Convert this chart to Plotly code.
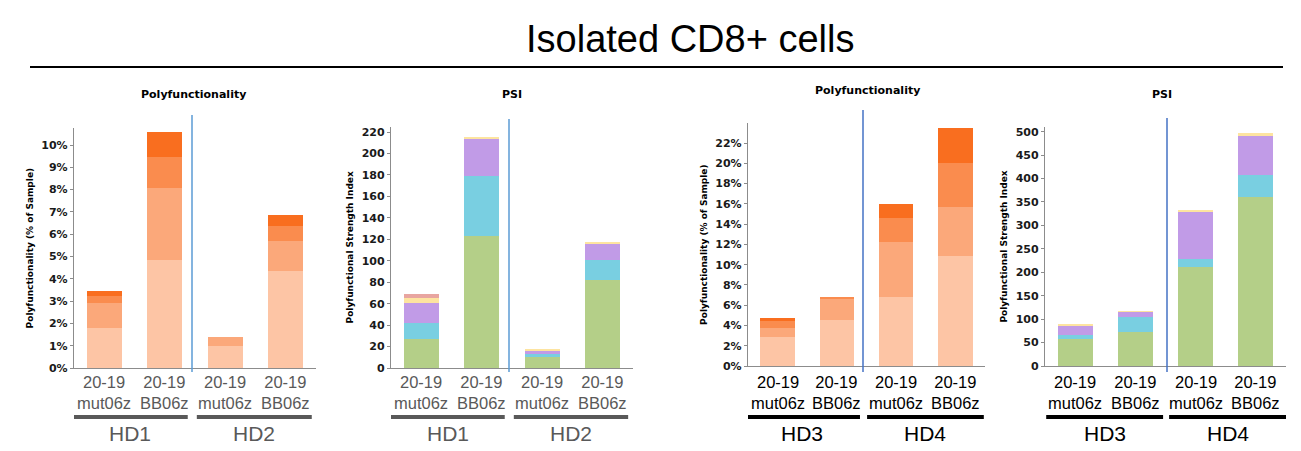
import plotly.graph_objects as go

# page body has an 8px margin: figure sized and offset to fill the 1301x451 window
OFF = 8
W, H = 1301 - OFF, 451 - OFF

# ---------------- data ----------------
categories = ["20-19<br>mut06z", "20-19<br>BB06z", "20-19<br>mut06z", "20-19<br>BB06z"]
groups_a = ["HD1", "HD2"]
groups_b = ["HD3", "HD4"]

# Panel 1: Polyfunctionality HD1/HD2 (% of sample), stacked segments (light -> dark)
p1_l1 = [1.80, 4.85, 0.97, 4.35]
p1_l2 = [1.10, 3.20, 0.41, 1.32]
p1_l3 = [0.30, 1.40, 0.00, 0.68]
p1_l4 = [0.25, 1.10, 0.00, 0.50]

# Panel 2: PSI HD1/HD2, stacked segments (green, cyan, purple, yellow, pink)
p2_green = [27.3, 123.0, 10.6, 82.0]
p2_cyan = [15.3, 56.0, 2.8, 18.7]
p2_purple = [18.7, 35.0, 3.1, 15.3]
p2_yellow = [4.5, 2.0, 1.8, 1.8]
p2_pink = [3.2, 0.0, 0.0, 0.0]

# Panel 3: Polyfunctionality HD3/HD4
p3_l1 = [2.87, 4.50, 6.80, 10.80]
p3_l2 = [0.88, 2.15, 5.45, 4.90]
p3_l3 = [0.63, 0.15, 2.35, 4.35]
p3_l4 = [0.30, 0.00, 1.40, 3.40]

# Panel 4: PSI HD3/HD4
p4_green = [57.7, 73.4, 211.5, 360.4]
p4_cyan = [7.8, 30.6, 17.1, 47.0]
p4_purple = [20.0, 11.4, 99.0, 85.5]
p4_yellow = [2.1, 1.0, 5.0, 3.5]

# ---------------- styles ----------------
orange = ["#FDC5A5", "#FBA87A", "#FA8C4E", "#F96E1F"]
psi_cols = ["#B4CF88", "#79CFE1", "#C19BE7", "#FDE4A0", "#E8A5A0"]


def px(x):
    return (x - OFF) / W


def py(y):
    return 1 - (y - OFF) / H


panels = [
    dict(x0=74, x1=316, ytop=128.3, ybot=368, yr=10.75, dtick=1, suffix="%",
         ytitle="Polyfunctionality (% of Sample)", title="Polyfunctionality", tx=193, ty=95,
         layers=[p1_l1, p1_l2, p1_l3, p1_l4], colors=orange, txt="#595959",
         groups=groups_a, div=192, divy=(115, 372), divcol="#5B9BD5",
         under=[(-0.52, 1.38), (1.53, 3.43)], ucol="#595959"),
    dict(x0=391, x1=633, ytop=126.7, ybot=368, yr=225, dtick=20, suffix="",
         ytitle="Polyfunctional Strength Index", title="PSI", tx=512, ty=95,
         layers=[p2_green, p2_cyan, p2_purple, p2_yellow, p2_pink], colors=psi_cols,
         txt="#595959", groups=groups_a, div=509, divy=(119, 372), divcol="#5B9BD5",
         under=[(-0.5, 1.38), (1.53, 3.42)], ucol="#595959"),
    dict(x0=748, x1=985, ytop=123.3, ybot=366, yr=23.95, dtick=2, suffix="%",
         ytitle="Polyfunctionality (% of Sample)", title="Polyfunctionality", tx=867, ty=90,
         layers=[p3_l1, p3_l2, p3_l3, p3_l4], colors=orange, txt="#000000",
         groups=groups_b, div=863, divy=(110, 372), divcol="#4472C4",
         under=[(-0.58, 1.39), (1.51, 3.48)], ucol="#000000"),
    dict(x0=1045, x1=1286, ytop=127, ybot=366, yr=510, dtick=50, suffix="",
         ytitle="Polyfunctional Strength Index", title="PSI", tx=1162, ty=95,
         layers=[p4_green, p4_cyan, p4_purple, p4_yellow], colors=psi_cols,
         txt="#000000", groups=groups_b, div=1167, divy=(118, 372), divcol="#4472C4",
         under=[(-0.48, 1.46), (1.56, 3.52)], ucol="#000000"),
]

fig = go.Figure()
shapes = []
annotations = []
xpos = list(range(len(categories)))
tickfont = dict(family="DejaVu Sans", size=11, color="#1a1a1a", weight="bold")

for i, p in enumerate(panels):
    n = "" if i == 0 else str(i + 1)
    xa, ya = "x" + n, "y" + n
    for layer, col in zip(p["layers"], p["colors"]):
        fig.add_trace(go.Bar(x=xpos, y=layer, xaxis=xa, yaxis=ya, width=0.58,
                             marker=dict(color=col, line=dict(width=0)),
                             showlegend=False))
    fig.layout["xaxis" + n] = dict(
        domain=[px(p["x0"]), px(p["x1"])], range=[-0.5, 3.5], anchor=ya,
        showticklabels=False, ticks="", showgrid=False, zeroline=False,
        showline=True, linecolor="#8c8c8c", linewidth=1.3, fixedrange=True)
    fig.layout["yaxis" + n] = dict(
        domain=[py(p["ybot"]), py(p["ytop"])], range=[0, p["yr"]], anchor=xa,
        dtick=p["dtick"], ticksuffix=p["suffix"], showgrid=False, zeroline=False,
        showline=True, linecolor="#8c8c8c", linewidth=1.3, ticks="outside",
        ticklen=3, tickcolor="#8c8c8c", tickfont=tickfont, automargin=False,
        title=dict(text=p["ytitle"], standoff=6,
                   font=dict(family="DejaVu Sans", size=9, color="#000", weight="bold")),
        fixedrange=True)
    # panel title
    annotations.append(dict(text=p["title"], x=px(p["tx"]), y=py(p["ty"]),
                            xref="paper", yref="paper", showarrow=False,
                            xanchor="center", yanchor="middle",
                            font=dict(family="DejaVu Sans", size=11, color="#000", weight="bold")))
    # divider line
    shapes.append(dict(type="line", xref="paper", yref="paper",
                       x0=px(p["div"]), x1=px(p["div"]),
                       y0=py(p["divy"][0]), y1=py(p["divy"][1]),
                       line=dict(color=p["divcol"], width=1.5)))
    # category labels
    for k, c in enumerate(categories):
        annotations.append(dict(text=c, x=k, y=py(392), xref=xa, yref="paper",
                                showarrow=False, xanchor="center", yanchor="middle",
                                font=dict(family="Liberation Sans", size=16.5, color=p["txt"])))
    # group underlines and labels
    for (u0, u1), g in zip(p["under"], p["groups"]):
        shapes.append(dict(type="line", xref=xa, yref="paper", x0=u0, x1=u1,
                           y0=py(417), y1=py(417),
                           line=dict(color=p["ucol"], width=4)))
        annotations.append(dict(text=g, x=(u0 + u1) / 2, y=py(433), xref=xa, yref="paper",
                                showarrow=False, xanchor="center", yanchor="middle",
                                font=dict(family="Liberation Sans", size=21, color=p["txt"])))

# main title and rule
annotations.append(dict(text="Isolated CD8+ cells", x=px(690), y=py(39), xref="paper",
                        yref="paper", showarrow=False, xanchor="center", yanchor="middle",
                        font=dict(family="Liberation Sans", size=38, color="#000")))
shapes.append(dict(type="line", xref="paper", yref="paper", x0=px(30), x1=px(1283),
                   y0=py(67), y1=py(67), line=dict(color="#000", width=2)))

fig.update_layout(width=W, height=H, margin=dict(l=0, r=0, t=0, b=0),
                  barmode="stack", bargap=0, plot_bgcolor="white", paper_bgcolor="white",
                  shapes=shapes, annotations=annotations)

fig.write_html("out.html", config={"displayModeBar": False})
